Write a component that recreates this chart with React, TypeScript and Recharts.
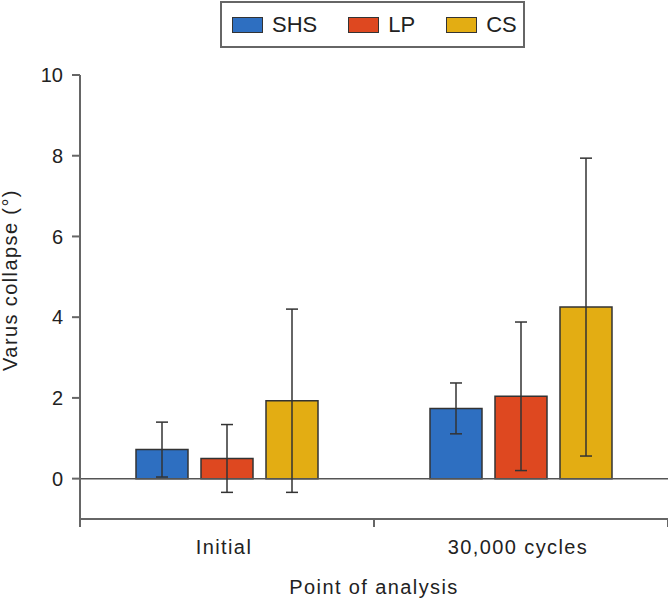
import { BarChart, Bar, XAxis, YAxis, ErrorBar, ReferenceLine, Legend } from 'recharts'

const categories = ['Initial', '30,000 cycles']
const shsMean = [0.72, 1.74]
const shsSd = [0.68, 0.63]
const lpMean = [0.5, 2.04]
const lpSd = [0.84, 1.84]
const csMean = [1.93, 4.25]
const csSd = [2.27, 3.69]
const yTicks = [0, 2, 4, 6, 8, 10]

const seriesInfo = [
  { key: 'shs', name: 'SHS', color: '#2E6FC1' },
  { key: 'lp', name: 'LP', color: '#DE4820' },
  { key: 'cs', name: 'CS', color: '#E3AD13' },
]

const data = categories.map((point, i) => ({
  point,
  shs: shsMean[i],
  shsErr: shsSd[i],
  lp: lpMean[i],
  lpErr: lpSd[i],
  cs: csMean[i],
  csErr: csSd[i],
}))

const FONT = '"Liberation Sans", Arial, sans-serif'
const AXIS = '#666'
const INK = '#333'

function CategoryTick(props: any) {
  const { x, y, payload } = props
  const half = payload?.offset ?? 0
  return (
    <g>
      <line x1={x - half} y1={y} x2={x - half} y2={y + 8} stroke={AXIS} strokeWidth={2} />
      <line x1={x + half} y1={y} x2={x + half} y2={y + 8} stroke={AXIS} strokeWidth={2} />
      <text
        x={x - 3}
        y={y + 35}
        textAnchor="middle"
        fontFamily={FONT}
        fontSize={20}
        letterSpacing={1.4}
        fill="#222"
      >
        {payload.value}
      </text>
    </g>
  )
}

function LegendBox() {
  return (
    <div
      style={{
        boxSizing: 'border-box',
        width: 305,
        height: 47,
        border: '2px solid #666',
        background: '#fff',
        display: 'flex',
        alignItems: 'center',
        paddingLeft: 10,
        fontFamily: FONT,
        fontSize: 22,
        color: '#222',
      }}
    >
      {seriesInfo.map((s) => (
        <div key={s.key} style={{ display: 'flex', alignItems: 'center', marginRight: 31 }}>
          <span
            style={{
              display: 'inline-block',
              boxSizing: 'border-box',
              width: 31,
              height: 16,
              background: s.color,
              border: `1.5px solid ${INK}`,
              marginRight: 9,
            }}
          />
          <span>{s.name}</span>
        </div>
      ))}
    </div>
  )
}

export default function App() {
  return (
    <div style={{ position: 'absolute', left: 0, top: 0, width: 668, height: 601, background: '#fff' }}>
      <BarChart
        width={668}
        height={601}
        data={data}
        margin={{ top: 75, right: 0, bottom: 0, left: 0 }}
        barGap={13}
        barCategoryGap={56}
      >
        <Legend
          layout="horizontal"
          verticalAlign="middle"
          align="center"
          content={<LegendBox />}
          wrapperStyle={{ top: 1, left: 220, width: 305, height: 47 }}
        />
        <XAxis
          dataKey="point"
          height={82}
          axisLine={{ stroke: AXIS, strokeWidth: 2 }}
          tickLine={false}
          tickSize={0}
          tickMargin={0}
          tick={<CategoryTick />}
          interval={0}
          label={{
            value: 'Point of analysis',
            position: 'insideBottom',
            offset: 7,
            fontFamily: FONT,
            fontSize: 20,
            letterSpacing: 1.4,
            fill: '#222',
          }}
        />
        <YAxis
          width={80}
          domain={[-1, 10]}
          ticks={yTicks}
          allowDataOverflow
          axisLine={{ stroke: AXIS, strokeWidth: 2 }}
          tickLine={{ stroke: AXIS, strokeWidth: 2 }}
          tickSize={8}
          tickMargin={9}
          tick={{ fontFamily: FONT, fontSize: 20, fill: '#222' }}
          label={{
            value: 'Varus collapse (°)',
            angle: -90,
            position: 'center',
            dx: -30,
            dy: -17,
            fontFamily: FONT,
            fontSize: 20,
            letterSpacing: 1.4,
            fill: '#222',
          }}
        />
        <ReferenceLine y={0} stroke="#555" strokeWidth={1.5} />
        {seriesInfo.map((s) => (
          <Bar
            key={s.key}
            dataKey={s.key}
            name={s.name}
            fill={s.color}
            stroke={INK}
            strokeWidth={1.5}
            isAnimationActive={false}
          >
            <ErrorBar dataKey={`${s.key}Err`} width={6} stroke={INK} strokeWidth={1.5} />
          </Bar>
        ))}
      </BarChart>
    </div>
  )
}
